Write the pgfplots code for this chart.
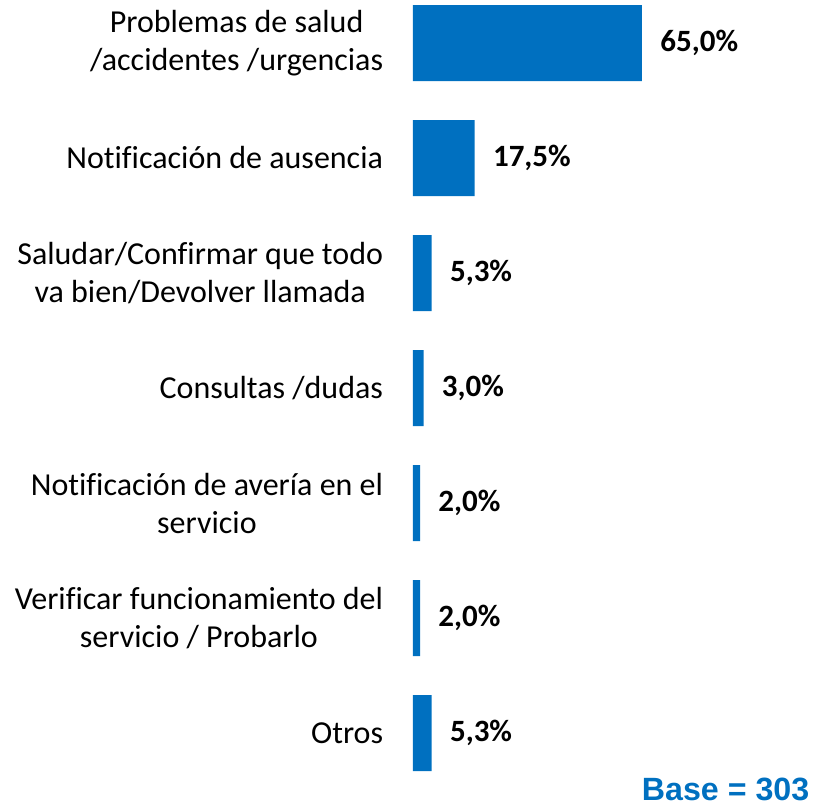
\documentclass[border=0pt]{standalone}
\usepackage{fontspec}
\setmainfont[Ligatures=NoCommon]{Carlito}
\newfontfamily\arialfont{Liberation Sans}
\usepackage{pgfplots}
\pgfplotsset{compat=1.18}
\definecolor{barblue}{HTML}{0070C0}

\begin{document}
\begin{tikzpicture}
\begin{axis}[
    xbar,
    x=1.7615pt, y=57.5pt,
    y dir=reverse,
    xmin=0, xmax=65,
    ymin=-0.3, ymax=6.3,
    bar width=38pt,
    axis line style={draw=none},
    tick style={draw=none},
    xtick=\empty,
    ytick={0,1,2,3,4,5,6},
    yticklabels={
        {Problemas de salud\\/accidentes /urgencias},
        {Notificación de ausencia},
        {Saludar/Confirmar que todo\\va bien/Devolver llamada},
        {Consultas /dudas},
        {Notificación de avería en el\\servicio},
        {Verificar funcionamiento del\\servicio / Probarlo},
        {Otros}},
    y tick label style={align=center, inner sep=0pt, xshift=-10.5pt,
        font=\fontsize{16}{19}\selectfont},
    clip=false,
    nodes near coords={\pgfmathprintnumber[fixed,fixed zerofill,precision=1,use comma]{\pgfplotspointmeta}\%},
    every node near coord/.append style={font=\fontsize{15.5}{18}\selectfont\bfseries,
        black, anchor=west, inner sep=0pt, xshift=9pt},
    /pgf/number format/assume math mode=true,
]
\addplot[fill=barblue, draw=none] coordinates {
    (65.0,0) (17.5,1) (5.3,2) (3.0,3) (2.0,4) (2.0,5) (5.3,6)
};
\node[anchor=base east, inner sep=0pt, text=barblue,
    font=\arialfont\fontsize{16.1}{18}\selectfont\bfseries]
    at (axis cs:112.6,6.585) {Base = 303};
\coordinate (tl) at (axis cs:-117.23,-0.374);
\coordinate (br) at (axis cs:116.38,6.626);
\end{axis}
\pgfresetboundingbox
\path[use as bounding box] (tl) rectangle (br);
\end{tikzpicture}
\end{document}
